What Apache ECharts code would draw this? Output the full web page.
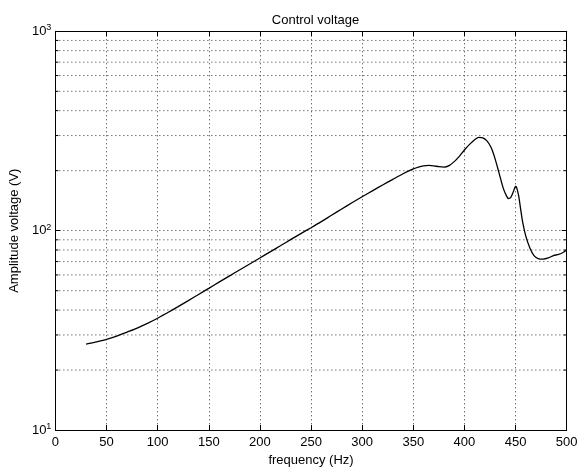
<!DOCTYPE html>
<html>
<head>
<meta charset="utf-8">
<script src="https://cdn.jsdelivr.net/npm/echarts@6/dist/echarts.min.js"></script>
<style>
html,body{margin:0;padding:0;background:#fff;}
#chart{width:585px;height:472px;}
</style>
</head>
<body>
<div id="chart"></div>
<script>
// ---- data ----
const frequency = [30, 40, 50, 60, 70, 80, 90, 100, 110, 120, 130, 140, 150, 160, 170, 180, 190, 200,
  210, 220, 230, 240, 250, 260, 270, 280, 290, 300, 310, 320, 330, 340, 350, 355, 360, 365, 370, 375,
  380, 385, 390, 395, 400, 405, 410, 414, 418, 422, 426, 429, 432, 435, 438, 441, 443, 445, 447, 449,
  450, 451, 453, 455, 457, 460, 464, 468, 472, 477, 482, 487, 492, 496, 500];
const amplitude = [27.0, 27.7, 28.5, 29.6, 31.0, 32.5, 34.3, 36.4, 38.9, 41.6, 44.6, 47.9, 51.4, 55.2, 59.2, 63.5, 68.1, 73.0,
  78.3, 84.0, 90.2, 96.7, 103.5, 111, 119.5, 128.5, 138, 148, 158.5, 169.5, 181, 193, 204, 208.5, 211.5, 212.5, 211.5, 209.5,
  208.5, 212, 222, 236, 254, 271, 286, 294, 292, 282, 262, 238, 211, 185, 163, 150, 145, 146, 153, 163,
  167, 165, 150, 128, 110, 94, 82, 75, 72.5, 72, 73, 75, 76, 77.5, 80];
const minorValues = [20, 30, 40, 50, 60, 70, 80, 90, 200, 300, 400, 500, 600, 700, 800, 900];
const yTickExponents = {10: '1', 100: '2', 1000: '3'};
const xMin = 0, xMax = 500, xInterval = 50;
const titleText = 'Control voltage';
const xName = 'frequency (Hz)';
const yName = 'Amplitude voltage (V)';

const FONT = "'Liberation Sans', Arial, Helvetica, sans-serif";
const FS = 13;
const lineData = frequency.map((f, i) => [f, amplitude[i]]);

const chart = echarts.init(document.getElementById('chart'), null, {renderer: 'canvas'});

const dotted = {color: '#333', width: 1, type: [1, 3]};

const option = {
  animation: false,
  backgroundColor: '#fff',
  title: {
    text: titleText, left: 310.5, top: 9, textAlign: 'center',
    textStyle: {fontFamily: FONT, fontSize: FS, fontWeight: 'normal', color: '#000'}
  },
  grid: {left: 54.3, right: 18.3, top: 31.3, bottom: 37.7, containLabel: false, show: false},
  xAxis: [{
    type: 'value', min: xMin, max: xMax, interval: xInterval, position: 'bottom',
    name: xName, nameLocation: 'middle', nameGap: 22,
    nameTextStyle: {fontFamily: FONT, fontSize: FS, color: '#000'},
    axisLine: {show: true, onZero: false, lineStyle: {color: '#000', width: 1}},
    axisTick: {show: true, inside: true, length: 5, lineStyle: {color: '#000'}},
    axisLabel: {fontFamily: FONT, fontSize: FS, color: '#000', margin: 6},
    splitLine: {show: true, lineStyle: dotted}
  }, {
    type: 'value', min: xMin, max: xMax, interval: xInterval, position: 'top',
    axisLine: {show: true, onZero: false, lineStyle: {color: '#000', width: 1}},
    axisTick: {show: true, inside: true, length: 5, lineStyle: {color: '#000'}},
    axisLabel: {show: false}, splitLine: {show: false}
  }],
  yAxis: [{
    type: 'log', logBase: 10, min: 10, max: 1000, position: 'left',
    name: yName, nameLocation: 'middle', nameGap: 32,
    nameTextStyle: {fontFamily: FONT, fontSize: FS, color: '#000'},
    axisLine: {show: true, onZero: false, lineStyle: {color: '#000', width: 1}},
    axisTick: {show: true, inside: true, length: 5, lineStyle: {color: '#000'}},
    axisLabel: {
      margin: 4,
      formatter: v => '{b|10}{s|' + (yTickExponents[Math.round(v)] || '') + '}',
      rich: {
        b: {fontFamily: FONT, fontSize: FS, color: '#000', lineHeight: 16, verticalAlign: 'middle'},
        s: {fontFamily: FONT, fontSize: 9, color: '#000', verticalAlign: 'top', lineHeight: 10}
      }
    },
    splitLine: {show: true, lineStyle: dotted}
  }, {
    type: 'log', logBase: 10, min: 10, max: 1000, position: 'right',
    axisLine: {show: true, onZero: false, lineStyle: {color: '#000', width: 1}},
    axisTick: {show: true, inside: true, length: 5, lineStyle: {color: '#000'}},
    axisLabel: {show: false}, splitLine: {show: false}
  }],
  series: [{
    type: 'custom',
    coordinateSystem: 'cartesian2d',
    xAxisIndex: 0, yAxisIndex: 0,
    silent: true, z: 1,
    data: minorValues.map(v => [xMin, v]),
    renderItem: function (params, api) {
      const v = api.value(1);
      const p0 = api.coord([xMin, v]);
      const p1 = api.coord([xMax, v]);
      return {
        type: 'group',
        children: [
          {type: 'line', shape: {x1: p0[0], y1: p0[1], x2: p1[0], y2: p1[1]},
           style: {stroke: '#333', lineWidth: 1, lineDash: [1, 3]}},
          {type: 'line', shape: {x1: p0[0], y1: p0[1], x2: p0[0] + 3, y2: p0[1]},
           style: {stroke: '#000', lineWidth: 1}},
          {type: 'line', shape: {x1: p1[0], y1: p1[1], x2: p1[0] - 3, y2: p1[1]},
           style: {stroke: '#000', lineWidth: 1}}
        ]
      };
    }
  }, {
    type: 'line',
    xAxisIndex: 0, yAxisIndex: 0,
    data: lineData,
    smooth: 0.3,
    symbol: 'none',
    z: 5,
    lineStyle: {color: '#000', width: 1.3}
  }]
};
chart.setOption(option);
</script>
</body>
</html>
